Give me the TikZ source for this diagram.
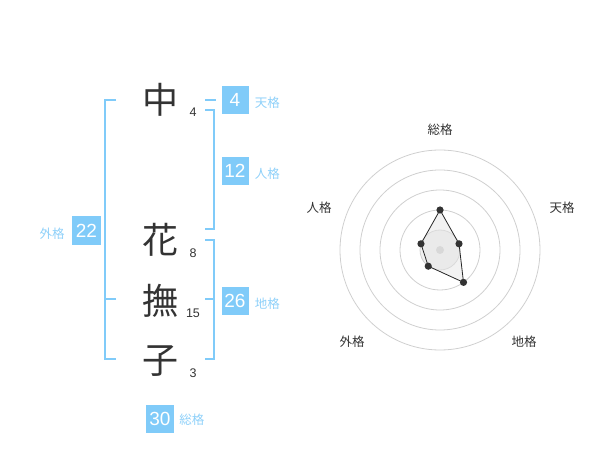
\documentclass[tikz,border=0pt]{standalone}
\usepackage{fontspec}
\setmainfont{Liberation Sans}
\newfontfamily\jpfont{Noto Sans CJK JP}
\usetikzlibrary{calc,positioning}

\definecolor{kakublue}{HTML}{80CBF9}
\definecolor{kakulabel}{HTML}{8ED0F9}
\definecolor{inkgray}{HTML}{333333}
\definecolor{ringgray}{HTML}{CFCFCF}

\tikzset{
  kanji/.style={font=\jpfont\fontsize{36}{36}\selectfont, text=inkgray, inner sep=0pt},
  strokes/.style={font=\fontsize{12.5}{12.5}\selectfont, text=inkgray, inner sep=0pt},
  kakubox/.style={fill=kakublue, text=white, minimum width=27pt, minimum height=28pt,
    inner sep=0pt, font=\fontsize{19}{19}\selectfont},
  kakuname/.style={font=\jpfont\fontsize{12.5}{12.5}\selectfont, text=kakulabel,
    inner sep=0pt, yshift=-3pt},
  bracket/.style={draw=kakublue, line width=2pt},
  axisname/.style={font=\jpfont\fontsize{12.5}{12.5}\selectfont, text=inkgray, inner sep=0pt},
}

\begin{document}
\begin{tikzpicture}[x=1pt, y=-1pt]
    \useasboundingbox (0,0) rectangle (600,470);

    % The name, one character per row
    \node[kanji] (c1) at (160,100) {中};
    \node[kanji] (c2) at (160,240) {花};
    \node[kanji] (c3) at (160,301) {撫};
    \node[kanji] (c4) at (160,361) {子};

    % Stroke counts
    \node[strokes] (n1) at (193,112) {4};
    \node[strokes] (n2) at (193,253) {8};
    \node[strokes] (n3) at (193,313) {15};
    \node[strokes] (n4) at (193,373) {3};

    % Outer bracket (gaikaku)
    \coordinate (gTop) at (116,100);
    \coordinate (gMid) at (116,299);
    \coordinate (gBot) at (116,359);
    \draw[bracket] (gTop) -- (105,100) -- (105,359) -- (gBot);
    \draw[bracket] (gMid) -- (105,299);

    % Right brackets: tenkaku, jinkaku, chikaku
    \coordinate (tTick) at (205,100);
    \draw[bracket] (tTick) -- (216,100);
    \coordinate (jTop) at (205,110);
    \coordinate (jBot) at (205,229);
    \draw[bracket] (jTop) -- (214,110) -- (214,229) -- (jBot);
    \coordinate (cTop) at (205,240);
    \coordinate (cMid) at (205,299);
    \coordinate (cBot) at (205,359);
    \draw[bracket] (cTop) -- (214,240) -- (214,359) -- (cBot);
    \draw[bracket] (cMid) -- (214,299);

    % Result boxes and their names
    \node[kakubox] (ten) at (235,100) {4};
    \node[kakuname, right=6pt of ten] (tenName) {天格};
    \node[kakubox] (jin) at (235,171) {12};
    \node[kakuname, right=6pt of jin] (jinName) {人格};
    \node[kakubox] (chi) at (235,301) {26};
    \node[kakuname, right=6pt of chi] (chiName) {地格};
    \node[kakubox, minimum width=29pt, minimum height=29pt] (gai) at (86.5,230.5) {22};
    \node[kakuname, left=7pt of gai] (gaiName) {外格};
    \node[kakubox, minimum width=28pt] (sou) at (160,419) {30};
    \node[kakuname, right=5pt of sou, yshift=2pt] (souName) {総格};

    % Radar chart
    \begin{scope}[shift={(440,250)}, yscale=-1]
        \fill[gray!12] (0,0) circle (20);
        \foreach \r in {20,40,60,80,100}
            \draw[ringgray, line width=0.8pt] (0,0) circle (\r);
        \fill[gray!40] (0,0) circle (4);

        \coordinate (pSou) at (90:40);
        \coordinate (pTen) at (18:20);
        \coordinate (pChi) at (-54:40);
        \coordinate (pGai) at (-126:20);
        \coordinate (pJin) at (162:20);

        \draw[black!85, line width=0.8pt, fill=gray!20, fill opacity=0.5]
            (pSou) -- (pTen) -- (pChi) -- (pGai) -- (pJin) -- cycle;
        \foreach \p in {pSou,pTen,pChi,pGai,pJin}
            \fill[inkgray] (\p) circle (3.6);
    \end{scope}

    % Axis names
    \node[axisname] (aSou) at (440,130) {総格};
    \node[axisname] (aTen) at (562,208) {天格};
    \node[axisname] (aChi) at (524,342) {地格};
    \node[axisname] (aGai) at (352,342) {外格};
    \node[axisname] (aJin) at (319,208) {人格};

\end{tikzpicture}
\end{document}
